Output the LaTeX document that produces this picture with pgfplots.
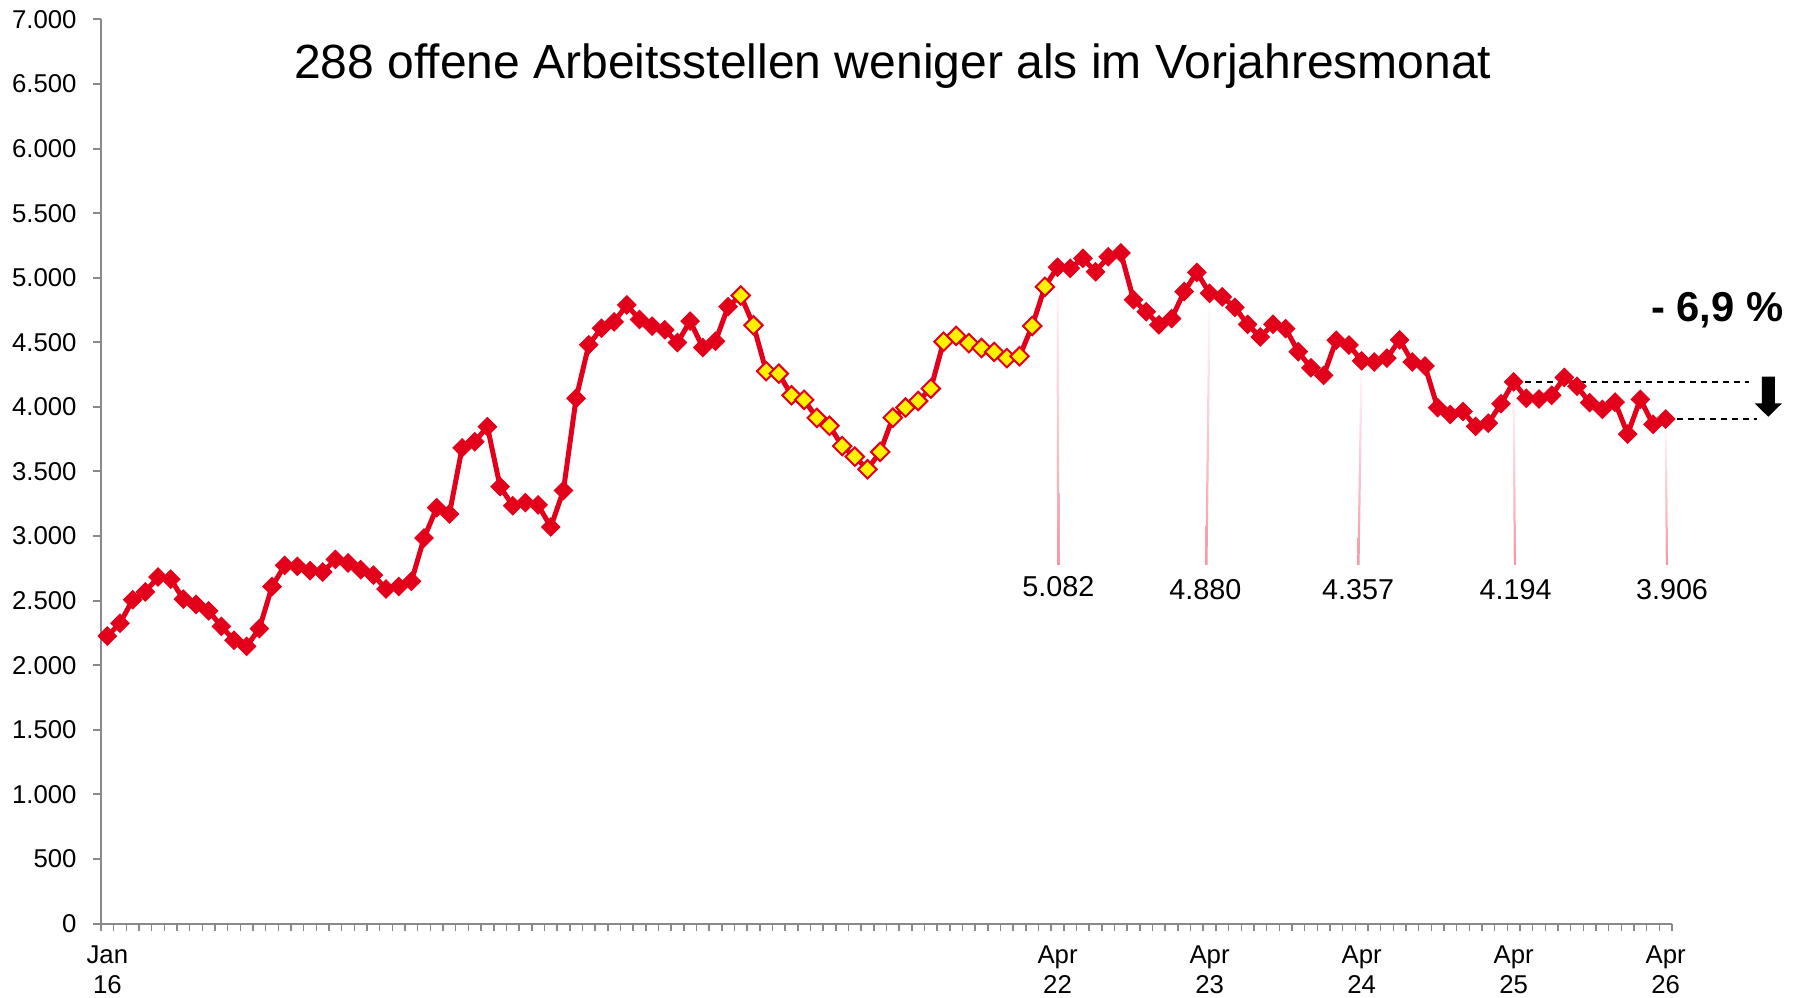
\documentclass[border=0pt]{standalone}
\usepackage{fontspec}
\setmainfont{Liberation Sans}
\usepackage{pgfplots}
\pgfplotsset{compat=1.18}
\usepackage{pgfplotstable}
\definecolor{lred}{RGB}{227,0,27}
\definecolor{axgray}{RGB}{137,137,137}
\definecolor{lpink}{RGB}{244,150,165}

\pgfplotstableread{
x y
0 2226
1 2325
2 2507
3 2567
4 2683
5 2666
6 2512
7 2471
8 2421
9 2301
10 2193
11 2146
12 2284
13 2609
14 2773
15 2766
16 2732
17 2721
18 2819
19 2792
20 2740
21 2698
22 2590
23 2609
24 2650
25 2985
26 3220
27 3171
28 3683
29 3731
30 3847
31 3383
32 3235
33 3259
34 3241
35 3070
36 3353
37 4067
38 4481
39 4609
40 4658
41 4790
42 4677
43 4625
44 4597
45 4498
46 4664
47 4460
48 4509
49 4776
50 4863
51 4632
52 4277
53 4258
54 4090
55 4055
56 3915
57 3854
58 3697
59 3615
60 3517
61 3652
62 3917
63 3995
64 4046
65 4142
66 4505
67 4550
68 4494
69 4456
70 4426
71 4378
72 4392
73 4627
74 4930
75 5082
76 5073
77 5151
78 5046
79 5163
80 5192
81 4830
82 4737
83 4636
84 4684
85 4893
86 5042
87 4880
88 4852
89 4771
90 4639
91 4542
92 4640
93 4606
94 4428
95 4303
96 4244
97 4516
98 4479
99 4357
100 4348
101 4378
102 4519
103 4348
104 4317
105 3994
106 3941
107 3964
108 3850
109 3874
110 4024
111 4194
112 4067
113 4061
114 4090
115 4228
116 4160
117 4033
118 3981
119 4037
120 3790
121 4059
122 3865
123 3906
}\data

\begin{document}
\begin{tikzpicture}
\begin{axis}[
  scale only axis, width=628.4pt, height=361.6pt,
  at={(0,0)}, anchor=south west,
  xmin=-0.5, xmax=123.5, ymin=0, ymax=7000,
  clip=false,
  axis x line*=bottom, axis y line*=left,
  axis line style={axgray, line width=0.8pt},
  tick align=outside,
  xtick={0,75,87,99,111,123},
  xticklabels={Jan\\16, Apr\\22, Apr\\23, Apr\\24, Apr\\25, Apr\\26},
  major x tick style={draw=none},
  minor xtick={-0.5,0.5,...,123.5},
  minor x tick style={axgray, line width=0.6pt},
  minor tick length=2.8pt,
  ytick={0,500,...,7000},
  major y tick style={axgray, line width=0.8pt},
  major tick length=3pt,
  tick label style={font=\fontsize{10.3}{12.1}\selectfont, text=black},
  xticklabel style={align=center, inner sep=0pt, anchor=north, yshift=-5.8pt},
  yticklabel style={inner sep=0pt, anchor=east, xshift=-6.6pt},
  /pgf/number format/.cd, 1000 sep={.}, assume math mode=true,
]
% leader lines
\shade[top color=white, bottom color=lpink] ([xshift=-0.45pt]axis cs:75,5082) -- ([xshift=0.45pt]axis cs:75,5082) -- ([xshift=0.45pt]axis cs:75.06,2776) -- ([xshift=-0.45pt]axis cs:75.06,2776) -- cycle;
\shade[top color=white, bottom color=lpink] ([xshift=-0.45pt]axis cs:87,4880) -- ([xshift=0.45pt]axis cs:87,4880) -- ([xshift=0.45pt]axis cs:86.75,2776) -- ([xshift=-0.45pt]axis cs:86.75,2776) -- cycle;
\shade[top color=white, bottom color=lpink] ([xshift=-0.45pt]axis cs:99,4357) -- ([xshift=0.45pt]axis cs:99,4357) -- ([xshift=0.45pt]axis cs:98.75,2776) -- ([xshift=-0.45pt]axis cs:98.75,2776) -- cycle;
\shade[top color=white, bottom color=lpink] ([xshift=-0.45pt]axis cs:111,4194) -- ([xshift=0.45pt]axis cs:111,4194) -- ([xshift=0.45pt]axis cs:111.1,2776) -- ([xshift=-0.45pt]axis cs:111.1,2776) -- cycle;
\shade[top color=white, bottom color=lpink] ([xshift=-0.45pt]axis cs:123,3906) -- ([xshift=0.45pt]axis cs:123,3906) -- ([xshift=0.45pt]axis cs:123.1,2776) -- ([xshift=-0.45pt]axis cs:123.1,2776) -- cycle;

% dashed comparison lines
\draw[black, line width=0.7pt, dash pattern=on 2.7pt off 1.7pt] (axis cs:111,4194) -- (axis cs:129.6,4194);
\draw[black, line width=0.7pt, dash pattern=on 2.7pt off 1.7pt] (axis cs:123,3906) -- (axis cs:130.2,3906);

\addplot[lred, line width=2pt, mark=square*, mark size=2.6pt,
  mark options={rotate=45, fill=lred, draw=lred, line width=0.4pt, solid}] table {\data};
\addplot[only marks, mark=square*, mark size=2.6pt,
  mark options={rotate=45, fill=yellow, draw=lred, line width=0.8pt},
  restrict x to domain=50:74] table {\data};

% value labels
\node[anchor=base, font=\fontsize{11.5}{13}\selectfont] at (axis cs:75.06,2531) {5.082};
\node[anchor=base, font=\fontsize{11.5}{13}\selectfont] at (axis cs:86.66,2511) {4.880};
\node[anchor=base, font=\fontsize{11.5}{13}\selectfont] at (axis cs:98.73,2505) {4.357};
\node[anchor=base, font=\fontsize{11.5}{13}\selectfont] at (axis cs:111.15,2505) {4.194};
\node[anchor=base, font=\fontsize{11.5}{13}\selectfont] at (axis cs:123.5,2505) {3.906};

% arrow
\fill[black] ([xshift=-2.6pt]axis cs:131.1,4234) -- ([xshift=2.6pt]axis cs:131.1,4234)
  -- ([xshift=2.6pt,yshift=5.3pt]axis cs:131.1,3924) -- ([xshift=5.4pt,yshift=5.3pt]axis cs:131.1,3924)
  -- (axis cs:131.1,3924) -- ([xshift=-5.4pt,yshift=5.3pt]axis cs:131.1,3924)
  -- ([xshift=-2.6pt,yshift=5.3pt]axis cs:131.1,3924) -- cycle;

\node[anchor=base, font=\bfseries\fontsize{16.7}{20}\selectfont] at (axis cs:127.07,4660) {- 6,9 \%};

% title
\node[anchor=base, font=\fontsize{19.2}{23}\selectfont] at (axis cs:62.0,6545) {288 offene Arbeitsstellen weniger als im Vorjahresmonat};
\end{axis}
\pgfresetboundingbox
\useasboundingbox (-40.4pt,-29.4pt) rectangle (679.2pt,369.4pt);
\end{tikzpicture}
\end{document}
